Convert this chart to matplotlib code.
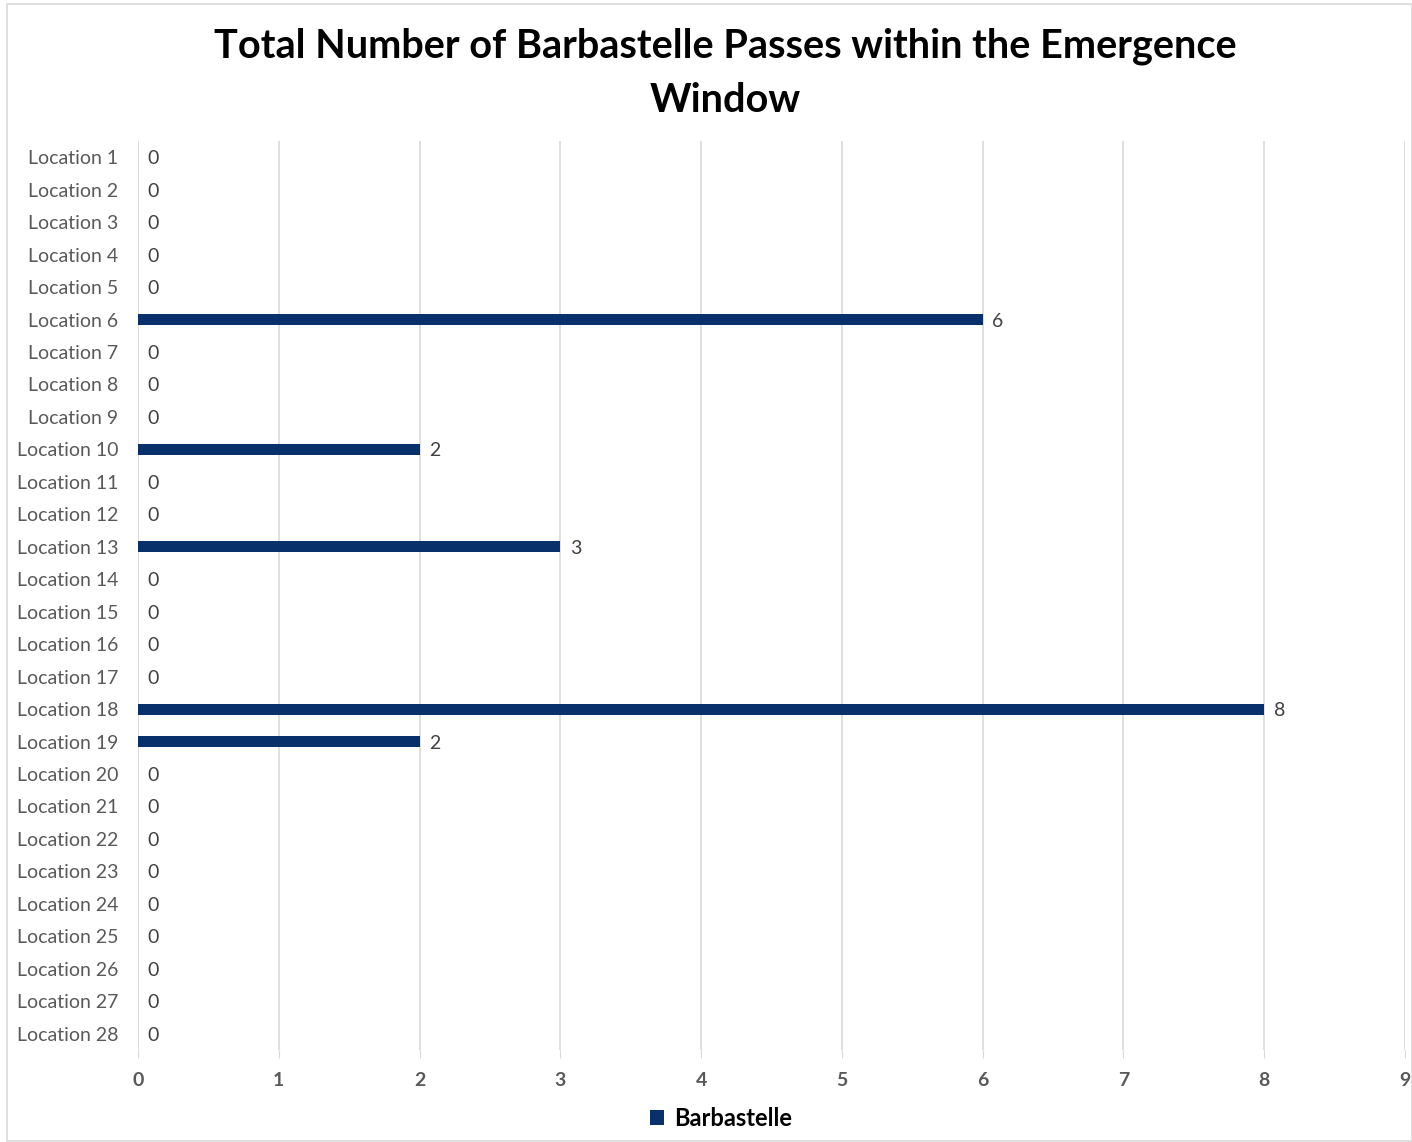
import matplotlib.pyplot as plt
from matplotlib.patches import Rectangle

# chart data
locations = ['Location %d' % i for i in range(1, 29)]
passes = [0, 0, 0, 0, 0, 6, 0, 0, 0, 2, 0, 0, 3, 0,
          0, 0, 0, 8, 2, 0, 0, 0, 0, 0, 0, 0, 0, 0]
xticks = [0, 1, 2, 3, 4, 5, 6, 7, 8, 9]
series_name = 'Barbastelle'
title = 'Total Number of Barbastelle Passes within the Emergence\nWindow'

plt.rcParams['font.family'] = ['Lato', 'DejaVu Sans']

fig = plt.figure(figsize=(14.12, 11.42), dpi=100)
ax = fig.add_axes([0.0977, 0.0806, 0.8973, 0.7959])

ypos = list(range(len(locations)))
bars = ax.barh(ypos, passes, height=0.34, color='#08306B', label=series_name, zorder=3)

for y, v in zip(ypos, passes):
    ax.annotate(str(v), (v, y), xytext=(7, 0), textcoords='offset points',
                ha='left', va='center_baseline', fontsize=14, color='#404040')

ax.set_ylim(len(locations) - 0.5, -0.5)
ax.set_xlim(0, 9)
ax.set_yticks(ypos)
ax.set_yticklabels(locations, fontsize=14, color='#595959')
ax.set_xticks(xticks)
ax.set_xticklabels([str(t) for t in xticks], fontsize=14, color='#595959', fontweight='bold')
ax.tick_params(axis='y', length=0, pad=14)
ax.tick_params(axis='x', length=6, color='#D9D9D9', pad=10)
ax.grid(axis='x', color='#D9D9D9', linewidth=1.2, zorder=0)
ax.axvline(0, color='#D9D9D9', linewidth=1.2, zorder=1)
for s in ax.spines.values():
    s.set_visible(False)

fig.text(725 / 1412, 1 - 73 / 1142, title, fontsize=28.5, fontweight='bold',
         ha='center', va='center', linespacing=1.55)

leg = fig.legend(handles=[bars], labels=[series_name], loc='center', bbox_to_anchor=(721 / 1412, 1 - 1118 / 1142),
                 frameon=False, prop={'size': 17, 'weight': 'bold'}, handlelength=0.6,
                 handleheight=0.6, handletextpad=0.4)

# chart border
fig.patches.append(Rectangle((7 / 1412, 1 / 1142), 1405 / 1412, 1137 / 1142, transform=fig.transFigure,
                             fill=False, edgecolor='#D9D9D9', linewidth=1.2))

plt.savefig('out.png', dpi=100)
plt.close('all')
